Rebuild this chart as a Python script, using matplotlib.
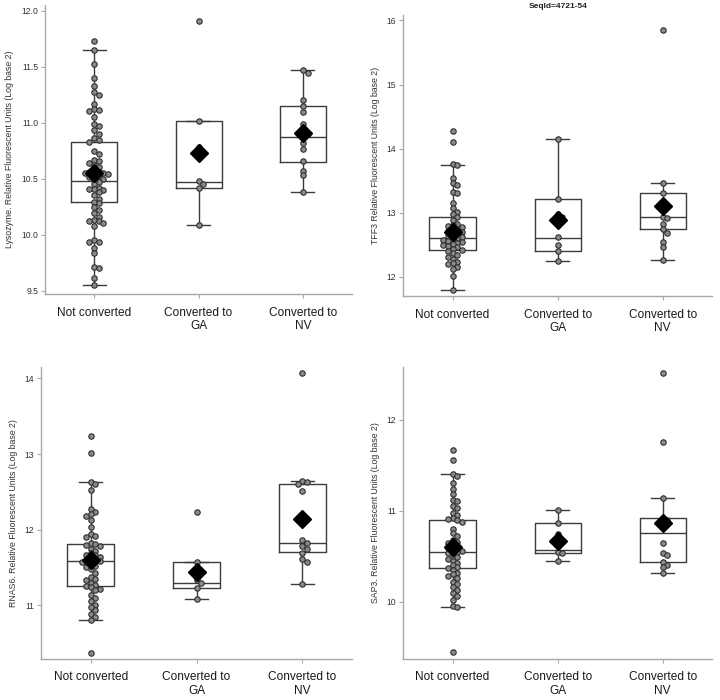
import numpy as np
import matplotlib
matplotlib.use("Agg")
import matplotlib.pyplot as plt

plt.rcParams['font.family'] = ['Liberation Sans', 'DejaVu Sans']

categories = ["Not converted", "Converted to\nGA", "Converted to\nNV"]

# ---------------- Panel 1: Lysozyme ----------------
lys_nc = [11.73, 11.65, 11.52, 11.40, 11.33, 11.27, 11.25, 11.17, 11.12, 11.10, 11.11, 11.05,
          10.99, 10.97, 10.93, 10.90, 10.86, 10.84, 10.83, 10.75, 10.72, 10.67, 10.66, 10.64,
          10.62, 10.60, 10.57, 10.56, 10.56, 10.55, 10.55, 10.54, 10.53, 10.52, 10.51, 10.50,
          10.49, 10.47, 10.45, 10.42, 10.41, 10.41, 10.40, 10.38, 10.35, 10.32, 10.29, 10.28,
          10.25, 10.22, 10.19, 10.16, 10.13, 10.12, 10.12, 10.10, 10.08, 9.95, 9.93, 9.93,
          9.88, 9.84, 9.71, 9.70, 9.61, 9.55]
lys_ga = [11.91, 11.01, 10.78, 10.48, 10.45, 10.42, 10.09]
lys_nv = [11.47, 11.44, 11.20, 11.15, 11.09, 10.99, 10.93, 10.90, 10.87, 10.82, 10.76, 10.66,
          10.57, 10.53, 10.38]
# box stats: whislo, q1, med, q3, whishi
lys_box = [[9.55, 10.29, 10.48, 10.83, 11.65],
           [10.09, 10.42, 10.47, 11.01, 11.01],
           [10.38, 10.65, 10.87, 11.15, 11.47]]
lys_mean = [10.55, 10.73, 10.91]

# ---------------- Panel 2: TFF3 ----------------
tff_nc = [14.28, 14.11, 13.76, 13.74, 13.55, 13.47, 13.44, 13.33, 13.31, 13.15, 13.07, 13.01,
          12.98, 12.94, 12.89, 12.83, 12.81, 12.80, 12.78, 12.75, 12.73, 12.71, 12.70, 12.68,
          12.66, 12.64, 12.62, 12.60, 12.59, 12.58, 12.56, 12.55, 12.53, 12.52, 12.50, 12.48,
          12.46, 12.44, 12.42, 12.40, 12.37, 12.34, 12.31, 12.28, 12.23, 12.21, 12.20, 12.16,
          12.12, 12.02, 11.79]
tff_ga = [14.15, 13.21, 12.98, 12.93, 12.62, 12.49, 12.40, 12.25]
tff_nv = [15.85, 13.46, 13.31, 13.12, 12.94, 12.92, 12.83, 12.75, 12.69, 12.54, 12.46, 12.27]
tff_box = [[11.79, 12.42, 12.60, 12.94, 13.74],
           [12.25, 12.41, 12.61, 13.21, 14.15],
           [12.27, 12.74, 12.93, 13.31, 13.46]]
tff_mean = [12.70, 12.88, 13.10]

# ---------------- Panel 3: RNAS6 ----------------
rna_nc = [13.24, 13.01, 12.63, 12.60, 12.52, 12.27, 12.23, 12.21, 12.18, 12.13, 12.03, 11.94,
          11.92, 11.90, 11.83, 11.81, 11.80, 11.78, 11.75, 11.72, 11.69, 11.67, 11.66, 11.64,
          11.62, 11.60, 11.59, 11.58, 11.57, 11.55, 11.52, 11.50, 11.48, 11.43, 11.37, 11.35,
          11.33, 11.30, 11.27, 11.25, 11.24, 11.22, 11.20, 11.14, 11.10, 11.06, 11.01, 10.98,
          10.94, 10.88, 10.84, 10.81, 10.37]
rna_ga = [12.23, 11.57, 11.42, 11.33, 11.29, 11.23, 11.08]
rna_nv = [14.07, 12.65, 12.63, 12.60, 12.51, 11.86, 11.82, 11.78, 11.74, 11.69, 11.61, 11.57, 11.28]
rna_box = [[10.81, 11.26, 11.58, 11.81, 12.63],
           [11.08, 11.23, 11.30, 11.57, 11.57],
           [11.28, 11.71, 11.82, 12.60, 12.65]]
rna_mean = [11.60, 11.44, 12.14]

# ---------------- Panel 4: SAP3 ----------------
sap_nc = [11.67, 11.56, 11.40, 11.38, 11.30, 11.24, 11.18, 11.12, 11.11, 11.05, 11.03, 10.98,
          10.95, 10.92, 10.91, 10.90, 10.88, 10.80, 10.75, 10.72, 10.68, 10.66, 10.64, 10.62,
          10.60, 10.59, 10.57, 10.56, 10.55, 10.53, 10.51, 10.49, 10.47, 10.45, 10.43, 10.40,
          10.38, 10.37, 10.35, 10.32, 10.30, 10.28, 10.26, 10.22, 10.19, 10.16, 10.13, 10.10,
          10.06, 10.02, 9.95, 9.94, 9.45]
sap_ga = [11.01, 10.86, 10.74, 10.65, 10.55, 10.53, 10.45]
sap_nv = [12.51, 11.76, 11.14, 10.92, 10.90, 10.87, 10.65, 10.53, 10.51, 10.44, 10.40, 10.38, 10.32]
sap_box = [[9.94, 10.37, 10.55, 10.90, 11.40],
           [10.45, 10.53, 10.57, 10.86, 11.01],
           [10.32, 10.44, 10.75, 10.92, 11.14]]
sap_mean = [10.60, 10.67, 10.87]

ylabels = ["Lysozyme. Relative Fluorescent Units (Log base 2)",
           "TFF3 Relative Fluorescent Units (Log base 2)",
           "RNAS6. Relative Fluorescent Units (Log base 2)",
           "SAP3. Relative Fluorescent Units (Log base 2)"]

panels = [
    dict(groups=[lys_nc, lys_ga, lys_nv], box=lys_box, mean=lys_mean,
         pos=[0.0625, 0.58, 0.4265, 0.413], ylim=(9.47, 12.05),
         yticks=[9.5, 10.0, 10.5, 11.0, 11.5, 12.0], fmt="{:.1f}"),
    dict(groups=[tff_nc, tff_ga, tff_nv], box=tff_box, mean=tff_mean,
         pos=[0.560, 0.577, 0.429, 0.402], ylim=(11.70, 16.09),
         yticks=[12, 13, 14, 15, 16], fmt="{:.0f}"),
    dict(groups=[rna_nc, rna_ga, rna_nv], box=rna_box, mean=rna_mean,
         pos=[0.057, 0.0586, 0.432, 0.417], ylim=(10.29, 14.15),
         yticks=[11, 12, 13, 14], fmt="{:.0f}"),
    dict(groups=[sap_nc, sap_ga, sap_nv], box=sap_box, mean=sap_mean,
         pos=[0.560, 0.0586, 0.429, 0.417], ylim=(9.37, 12.58),
         yticks=[10, 11, 12], fmt="{:.0f}"),
]

fig = plt.figure(figsize=(7.2, 7.0), dpi=100)

line_col = '#3c3c3c'
spine_col = '#a8a8a8'
MS = 3.9  # marker size in points
D_PX = MS * 100 / 72 * 0.85


def swarm(ax, x0, values):
    vals = np.asarray(values, dtype=float)
    ypx = ax.transData.transform(np.column_stack([np.full(len(vals), x0), vals]))[:, 1]
    px_per_unit = (ax.transData.transform([(1, 0)]) - ax.transData.transform([(0, 0)]))[0, 0]
    order = np.argsort(-vals)
    placed = []
    offs = np.zeros(len(vals))
    cands = [0.0]
    for k in range(1, 8):
        cands += [k * D_PX, -k * D_PX]
    for i in order:
        y = ypx[i]
        for c in cands:
            ok = True
            for (xp, yp) in placed:
                if (c - xp) ** 2 + (y - yp) ** 2 < (D_PX * 0.95) ** 2:
                    ok = False
                    break
            if ok:
                placed.append((c, y))
                offs[i] = c
                break
    return x0 + offs / px_per_unit


for k, p in enumerate(panels):
    ax = fig.add_axes(p['pos'])
    ax.set_xlim(-0.47, 2.47)
    ax.set_ylim(*p['ylim'])
    stats = []
    for b in p['box']:
        stats.append(dict(whislo=b[0], q1=b[1], med=b[2], q3=b[3], whishi=b[4], fliers=[]))
    lp = dict(color=line_col, linewidth=1.0)
    ax.bxp(stats, positions=[0, 1, 2], widths=0.44, capwidths=0.22, showfliers=False,
           boxprops=lp, whiskerprops=lp, capprops=lp, medianprops=lp, zorder=2)
    for gi, vals in enumerate(p['groups']):
        xs = swarm(ax, gi, vals)
        ax.plot(xs, vals, 'o', ms=MS, mfc='#8a8a8a', mec='#2e2e2e', mew=0.8, zorder=3)
    ax.plot([0, 1, 2], p['mean'], 'D', ms=9.5, color='black', zorder=4)

    for s in ['top', 'right']:
        ax.spines[s].set_visible(False)
    for s in ['left', 'bottom']:
        ax.spines[s].set_color(spine_col)
        ax.spines[s].set_linewidth(1.0)
    ax.set_xticks([0, 1, 2])
    ax.set_xticklabels(categories, fontsize=8.6, color='#1a1a1a', linespacing=1.15)
    ax.set_yticks(p['yticks'])
    ax.set_yticklabels([p['fmt'].format(v) for v in p['yticks']], fontsize=6.2, color='#333333')
    ax.tick_params(axis='both', colors=spine_col, length=3, width=0.8)
    ax.tick_params(axis='x', labelcolor='#1a1a1a', pad=6)
    ax.tick_params(axis='y', labelcolor='#333333', pad=2)
    ax.set_ylabel(ylabels[k], fontsize=6.3, color='#333333', labelpad=5)

fig.text(558 / 720, 1 - 7 / 700, "SeqId=4721-54", fontsize=6, fontweight='bold',
         ha='center', va='center', color='#222222')

fig.savefig("out.png", dpi=100, facecolor='white')
